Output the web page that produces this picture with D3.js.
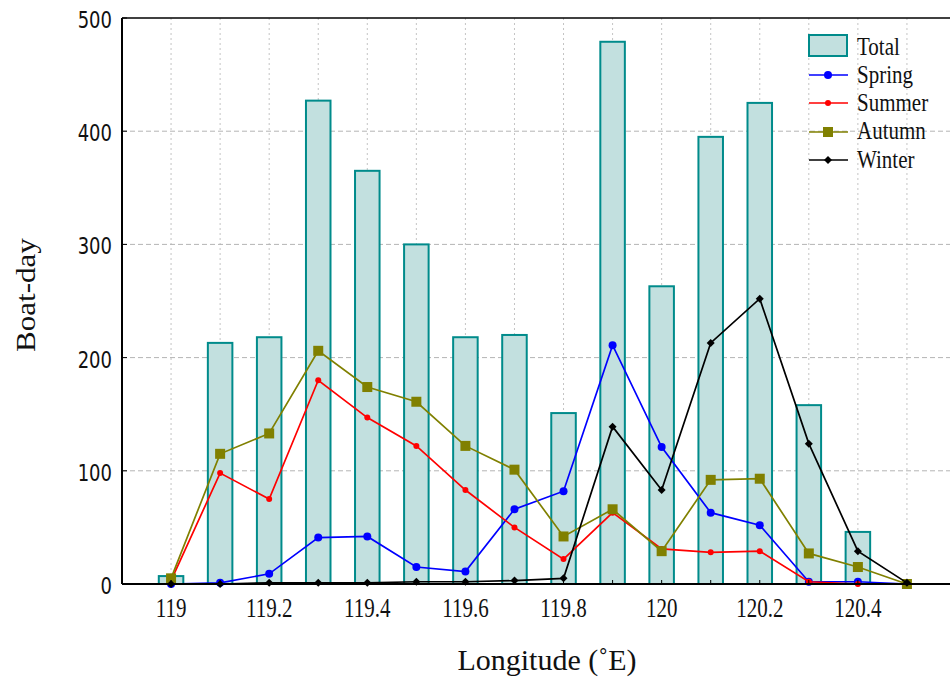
<!DOCTYPE html>
<html>
<head>
<meta charset="utf-8">
<script src="https://cdn.jsdelivr.net/npm/d3@7"></script>
<style>
  body { margin: 0; background: #fff; }
  svg { display: block; }
</style>
</head>
<body>
<svg width="950" height="681"></svg>
<script>
// longitude bins and boat-day counts
const lons = [119, 119.1, 119.2, 119.3, 119.4, 119.5, 119.6, 119.7, 119.8, 119.9, 120, 120.1, 120.2, 120.3, 120.4, 120.5];
const total  = [7, 213, 218, 427, 365, 300, 218, 220, 151, 479, 263, 395, 425, 158, 46, 0];
const spring = [0, 1, 9, 41, 42, 15, 11, 66, 82, 211, 121, 63, 52, 2, 2, 0];
const summer = [3, 98, 75, 180, 147, 122, 83, 50, 22, 63, 31, 28, 29, 2, 0, 0];
const autumn = [5, 115, 133, 206, 174, 161, 122, 101, 42, 66, 29, 92, 93, 27, 15, 0];
const winter = [0, 0, 1, 1, 1, 2, 2, 3, 5, 139, 83, 213, 252, 124, 29, 1];
const xTicks = [119, 119.2, 119.4, 119.6, 119.8, 120, 120.2, 120.4];
const yTicks = [0, 100, 200, 300, 400, 500];

const svg = d3.select("svg");
const pLeft = 122, pTop = 18, pBottom = 584, pRight = 956;

const x = d3.scaleLinear().domain([118.9, 120.6]).range([pLeft, pRight]);
const y = d3.scaleLinear().domain([0, 500]).range([pBottom, pTop]);

const SERIF = "'Liberation Serif'";
const SANS = "'DejaVu Sans'";
const minor = d3.range(0, 16).map(i => 119 + i / 10);

// text is a bit stretched vertically in the original
function label(tx, ty, str, font, size, anchor, sy) {
  svg.append("text")
    .attr("transform", `translate(${tx},${ty}) scale(1,${sy})`)
    .attr("text-anchor", anchor)
    .style("font-family", font)
    .attr("font-size", size)
    .attr("fill", "#111")
    .text(str);
}

// grid
const grid = svg.append("g");
grid.selectAll("line.v").data(minor)
  .enter().append("line")
  .attr("x1", d => x(d)).attr("x2", d => x(d))
  .attr("y1", pTop).attr("y2", pBottom)
  .attr("stroke", "#c4c4c4").attr("stroke-dasharray", "2,3");
grid.selectAll("line.h").data(yTicks.slice(1, -1))
  .enter().append("line")
  .attr("x1", pLeft).attr("x2", 950)
  .attr("y1", d => y(d)).attr("y2", d => y(d))
  .attr("stroke", "#b4b4b4").attr("stroke-dasharray", "5,3");

// bars
const bw = x(119.05) - x(119);
svg.selectAll("rect.bar").data(lons)
  .enter().append("rect")
  .attr("x", d => x(d) - bw / 2)
  .attr("width", bw)
  .attr("y", (d, i) => y(total[i]))
  .attr("height", (d, i) => y(0) - y(total[i]))
  .attr("fill", "#c2e0df")
  .attr("stroke", "#008b8b")
  .attr("stroke-width", 2);

// season lines
const series = [
  {name: "Spring", vals: spring, color: "#0000ff", mark: "circle", r: 4},
  {name: "Summer", vals: summer, color: "#ff0000", mark: "circle", r: 3},
  {name: "Autumn", vals: autumn, color: "#808000", mark: "square", r: 5},
  {name: "Winter", vals: winter, color: "#000000", mark: "diamond", r: 4}
];

const line = d3.line().x(d => x(d[0])).y(d => y(d[1]));

function drawMark(g, type, cx, cy, r, color) {
  if (type === "circle") {
    g.append("circle").attr("cx", cx).attr("cy", cy).attr("r", r).attr("fill", color);
  } else if (type === "square") {
    g.append("rect").attr("x", cx - r).attr("y", cy - r).attr("width", 2 * r).attr("height", 2 * r).attr("fill", color);
  } else {
    g.append("path").attr("d", `M${cx},${cy - r}L${cx + r},${cy}L${cx},${cy + r}L${cx - r},${cy}Z`).attr("fill", color);
  }
}

series.forEach(s => {
  const pts = lons.map((d, i) => [d, s.vals[i]]);
  svg.append("path").datum(pts)
    .attr("d", line)
    .attr("fill", "none")
    .attr("stroke", s.color)
    .attr("stroke-width", 1.7);
  const g = svg.append("g");
  pts.forEach(p => drawMark(g, s.mark, x(p[0]), y(p[1]), s.r, s.color));
});

// axes frame
svg.append("line").attr("x1", pLeft).attr("x2", pLeft).attr("y1", pTop).attr("y2", pBottom).attr("stroke", "#000").attr("stroke-width", 2);
svg.append("line").attr("x1", pLeft).attr("x2", 950).attr("y1", pBottom).attr("y2", pBottom).attr("stroke", "#000").attr("stroke-width", 2);
svg.append("line").attr("x1", pLeft).attr("x2", 950).attr("y1", pTop).attr("y2", pTop).attr("stroke", "#000").attr("stroke-width", 1.5);

// y ticks
svg.selectAll("line.yt").data(yTicks).enter().append("line")
  .attr("x1", pLeft).attr("x2", pLeft + 5)
  .attr("y1", d => y(d)).attr("y2", d => y(d))
  .attr("stroke", "#000");
yTicks.forEach(v => label(112, y(v) + 10, v, SANS, 18, "end", 1.3));

// x ticks
svg.selectAll("line.xt").data(minor).enter().append("line")
  .attr("x1", d => x(d)).attr("x2", d => x(d))
  .attr("y1", pBottom).attr("y2", pBottom - 4)
  .attr("stroke", "#000");
xTicks.forEach(v => label(x(v), 617, d3.format("")(v), SERIF, 21, "middle", 1.35));

// axis titles
svg.append("text")
  .attr("transform", "translate(35,295) rotate(-90) scale(1.15,1)")
  .attr("text-anchor", "middle")
  .style("font-family", SERIF)
  .attr("font-size", 27)
  .attr("fill", "#111")
  .text("Boat-day");
label(547, 670, "Longitude (˚E)", SERIF, 30, "middle", 1);

// legend
const lg = svg.append("g").attr("transform", "translate(808,0)");
lg.append("rect").attr("x", 1).attr("y", 35).attr("width", 38).attr("height", 21)
  .attr("fill", "#c2e0df").attr("stroke", "#008b8b").attr("stroke-width", 2);
label(857, 55, "Total", SERIF, 21, "start", 1.2);
const rowY = [75, 103, 132, 160];
const textY = [83, 111, 139, 168];
series.forEach((s, i) => {
  const yy = rowY[i];
  lg.append("line").attr("x1", 1).attr("x2", 40).attr("y1", yy).attr("y2", yy)
    .attr("stroke", s.color).attr("stroke-width", 1.7);
  drawMark(lg, s.mark, 20, yy, s.r, s.color);
  label(857, textY[i], s.name, SERIF, 21, "start", 1.2);
});
</script>
</body>
</html>
